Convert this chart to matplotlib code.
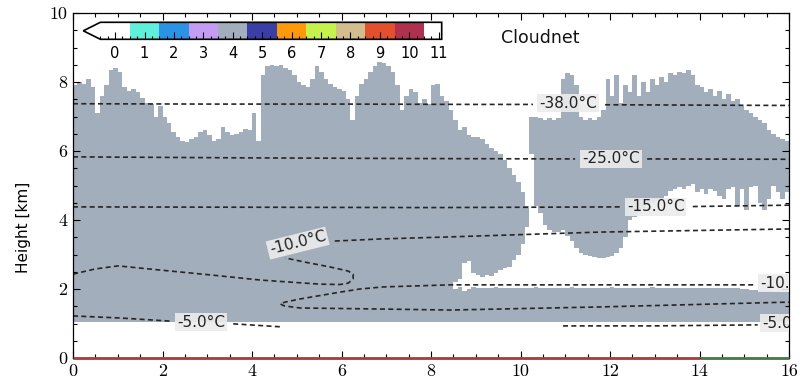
import numpy as np
import matplotlib
matplotlib.use("Agg")
import matplotlib.pyplot as plt
from matplotlib.colors import ListedColormap, BoundaryNorm
from matplotlib.cm import ScalarMappable
from matplotlib.ticker import MultipleLocator

plt.rcParams['font.family'] = ['DejaVu Sans']

# ---- Cloudnet target classification legend (classes 0..11) ----
class_colors = ["#ffffff", "#5ff0dc", "#2b93e6", "#c39cf5", "#a2aebb", "#3a3ea6",
                "#ff990a", "#c5f34b", "#d3bd8f", "#e4502c", "#b0304f", "#ffffff"]
class_bounds = [-0.5, 0.5, 1.5, 2.5, 3.5, 4.5, 5.5, 6.5, 7.5, 8.5, 9.5, 10.5, 11.1]
class_ticks = [0, 1, 2, 3, 4, 5, 6, 7, 8, 9, 10, 11]
ice_class = 4

# ---- cloud mask: profiles every 0.1 h ----
time_edges = np.linspace(0.0, 16.0, 161)
height_edges = np.linspace(0.0, 10.0, 1001)
cloud_base_km = 1.05

# echo top height per 0.1 h column [km]
echo_top_km = [
    7.9, 8.0, 7.95, 8.1, 7.85, 7.1, 7.6, 7.9, 8.35, 8.4,
    8.3, 7.85, 7.75, 7.8, 7.7, 7.55, 7.4, 7.35, 7.0, 7.3,
    7.0, 6.8, 6.55, 6.4, 6.3, 6.25, 6.35, 6.4, 6.55, 6.6,
    6.45, 6.3, 6.35, 6.7, 6.55, 6.45, 6.5, 6.55, 6.65, 6.6,
    7.1, 6.3, 8.2, 8.45, 8.5, 8.45, 8.5, 8.4, 8.35, 8.2,
    8.0, 7.9, 7.85, 8.1, 8.45, 8.3, 8.1, 7.95, 7.85, 7.8,
    7.75, 7.5, 6.9, 7.6, 7.95, 8.1, 8.3, 8.45, 8.58, 8.55,
    8.45, 8.3, 7.9, 7.2, 7.6, 7.8, 7.7, 7.4, 7.5, 7.35,
    7.9, 7.95, 7.6, 7.45, 7.2, 6.9, 6.6, 6.7, 6.45, 6.4,
    6.4, 6.35, 6.2, 6.1, 6.0, 5.9, 5.75, 5.5, 5.3, 5.1,
    4.8, 4.4, 7.0, 7.0, 6.95, 6.9, 6.95, 6.9, 6.95, 8.1,
    8.25, 8.2, 7.9, 7.0, 6.9, 6.95, 6.9, 7.0, 7.2, 8.1,
    7.6, 8.2, 7.4, 7.9, 7.7, 8.2, 7.6, 8.0, 7.7, 8.1,
    7.9, 8.15, 8.0, 8.25, 8.2, 8.3, 8.25, 8.35, 8.2, 7.9,
    7.85, 7.7, 7.8, 7.6, 7.75, 7.5, 7.65, 7.45, 7.5, 7.3,
    7.2, 7.1, 7.0, 6.9, 6.8, 6.6, 6.5, 6.4, 6.35, 6.3,
]

# clear gap between the low layer and the cloud aloft, from column 85 on [km]
gap_first_col = 85
gap_bottom_km = [
    2.0, 2.05, 1.95, 2.0, 2.05, 2.03, 2.02, 2.04, 2.03, 2.05,
    2.03, 2.02, 2.04, 2.03, 2.03, 2.04, 2.02, 2.03, 2.05, 2.03,
    2.04, 2.03, 2.02, 2.03, 2.04, 2.03, 2.05, 2.03, 2.02, 2.04,
    2.03, 2.03, 2.04, 2.02, 2.03, 2.05, 2.03, 2.04, 2.03, 2.02,
    2.03, 2.04, 2.03, 2.03, 2.05, 2.02, 2.03, 2.04, 2.03, 2.03,
    2.02, 2.04, 2.03, 2.03, 2.02, 2.04, 2.03, 2.02, 2.03, 2.04,
    2.03, 2.02, 2.03, 2.02, 2.0, 2.0, 1.98, 1.96, 1.95, 1.94,
    1.95, 1.92, 1.9, 1.9, 1.92,
]
gap_top_km = [
    2.2, 2.3, 2.75, 2.8, 2.45, 2.4, 2.35, 2.4, 2.38, 2.45,
    2.55, 2.6, 2.65, 2.85, 3.0, 3.3, 3.8, 5.9, 4.4, 4.2,
    3.85, 3.7, 3.65, 3.65, 3.7, 3.55, 3.4, 3.2, 3.05, 3.0,
    2.95, 2.92, 2.9, 2.9, 2.92, 2.95, 3.05, 3.2, 3.5, 4.0,
    4.1, 4.2, 4.35, 4.45, 4.5, 4.55, 4.6, 4.7, 4.85, 4.9,
    4.95, 4.9, 5.0, 5.05, 4.8, 4.9, 4.75, 4.9, 4.85, 4.7,
    4.6, 4.9, 4.95, 4.4, 4.9, 4.3, 4.95, 5.0, 4.5, 4.3,
    4.6, 5.0, 4.8, 4.6, 4.8,
]

# ---- model isotherms (time [h], height [km]); NaN breaks leave room for labels ----
iso_m38_t = [0.0, 3.0, 6.0, 9.0, 10.28, np.nan, 11.89, 14.0, 16.0]
iso_m38_h = [7.37, 7.36, 7.36, 7.35, 7.35, np.nan, 7.34, 7.33, 7.32]
iso_m25_t = [0.0, 4.0, 8.0, 11.22, np.nan, 12.83, 16.0]
iso_m25_h = [5.83, 5.80, 5.78, 5.77, np.nan, 5.77, 5.76]
iso_m15_t = [0.0, 4.0, 8.0, 12.22, np.nan, 13.85, 16.0]
iso_m15_h = [4.38, 4.37, 4.36, 4.38, np.nan, 4.39, 4.43]
iso_m10a_t = [0.0, 0.49, 1.01, 1.94, 3.06, 4.18, 5.52, 5.97, 6.15, 6.26, 6.26, 6.15,
              5.74, 5.18, 4.74, np.nan, 5.85, 6.86, 8.42, 11.78, 16.0]
iso_m10a_h = [2.43, 2.58, 2.67, 2.55, 2.41, 2.26, 2.14, 2.13, 2.17, 2.29, 2.43, 2.52,
              2.64, 2.78, 2.90, np.nan, 3.39, 3.45, 3.51, 3.65, 3.74]
iso_m10b_t = [15.20, 11.78, 8.42, 6.93, 6.41, 5.97, 5.07, 4.74, 4.63, 4.72, 5.07,
              6.86, 8.42, 11.78, 16.0]
iso_m10b_h = [2.12, 2.12, 2.12, 2.06, 2.00, 1.91, 1.71, 1.62, 1.57, 1.51, 1.45,
              1.42, 1.39, 1.48, 1.62]
iso_m5_t = [0.0, 1.05, 2.17, np.nan, 3.58, 4.69, np.nan, 10.95, 12.89, 15.30]
iso_m5_h = [1.22, 1.16, 1.07, np.nan, 0.99, 0.90, np.nan, 0.93, 0.93, 0.96]

iso_label_text = ["-38.0°C", "-25.0°C", "-15.0°C", "-10.0°C", "-10.0°C", "-5.0°C", "-5.0°C"]
iso_label_t = [11.06, 12.02, 13.02, 5.02, 15.35, 2.86, 15.40]
iso_label_h = [7.39, 5.77, 4.38, 3.33, 2.17, 1.04, 1.01]
iso_label_rot = [0, 0, 0, 14, 0, 0, 0]
iso_label_ha = ["center", "center", "center", "center", "left", "center", "left"]

# ---- flag strip along the bottom ----
flag_start = [0.0, 14.0]
flag_end = [14.0, 16.0]
flag_color = ["#b23a3a", "#3f7f45"]

# ---------------------------------------------------------------
fig = plt.figure(figsize=(8.02, 3.85), dpi=100)
ax = fig.add_axes([73 / 802, 27 / 385, 716 / 802, 345 / 385])

cmap = ListedColormap(class_colors)
cmap.set_under("white")
norm = BoundaryNorm(class_bounds, cmap.N)

h_mid = 0.5 * (height_edges[:-1] + height_edges[1:])
classes = np.zeros((h_mid.size, time_edges.size - 1))
for j in range(time_edges.size - 1):
    inside = (h_mid >= cloud_base_km) & (h_mid < echo_top_km[j])
    if j >= gap_first_col:
        k = j - gap_first_col
        inside &= ~((h_mid >= gap_bottom_km[k]) & (h_mid < gap_top_km[k]))
    classes[inside, j] = ice_class
classes = np.ma.masked_equal(classes, 0)
ax.pcolormesh(time_edges, height_edges, classes, cmap=cmap, norm=norm,
              shading="flat", edgecolors="none", linewidth=0, zorder=1)

dash_kw = dict(color="#262626", lw=1.2, dashes=(3, 2), zorder=2)
for tt, hh in [(iso_m38_t, iso_m38_h), (iso_m25_t, iso_m25_h), (iso_m15_t, iso_m15_h),
               (iso_m10a_t, iso_m10a_h), (iso_m10b_t, iso_m10b_h), (iso_m5_t, iso_m5_h)]:
    ax.plot(tt, hh, **dash_kw)

for txt, tx, hy, rot, ha in zip(iso_label_text, iso_label_t, iso_label_h,
                                iso_label_rot, iso_label_ha):
    ax.text(tx, hy, txt, fontsize=11, rotation=rot, ha=ha, va="center",
            rotation_mode="anchor", color="#222222", zorder=3, clip_on=True,
            bbox=dict(boxstyle="square,pad=0.12", fc="#ececec", ec="none", alpha=0.9))

for s, e, c in zip(flag_start, flag_end, flag_color):
    ax.plot([s, e], [0, 0], color=c, lw=2.0, solid_capstyle="butt", clip_on=False, zorder=5)

ax.text(10.44, 9.28, "Cloudnet", fontsize=12.5, ha="center", va="center", color="#111111")

ax.set_xlim(0, 16)
ax.set_ylim(0, 10)
ax.xaxis.set_major_locator(MultipleLocator(2))
ax.xaxis.set_minor_locator(MultipleLocator(0.5))
ax.yaxis.set_major_locator(MultipleLocator(2))
ax.yaxis.set_minor_locator(MultipleLocator(0.5))
ax.tick_params(which="both", direction="in", top=True, right=True, width=0.8)
ax.tick_params(which="major", length=5, labelsize=13, labelfontfamily="cmr10", pad=4)
ax.tick_params(which="minor", length=3)
for sp in ax.spines.values():
    sp.set_linewidth(0.9)
ax.set_ylabel("Height [km]", fontsize=11)
ax.yaxis.set_label_coords(-0.058, 0.38)

# classification colour bar
cax = fig.add_axes([83.3 / 802, (385 - 39.3) / 385, 358.4 / 802, 17 / 385])
cb = fig.colorbar(ScalarMappable(norm=norm, cmap=cmap), cax=cax, orientation="horizontal",
                  extend="min", spacing="proportional", ticks=class_ticks)
cb.minorlocator = MultipleLocator(0.25)
cb.outline.set_linewidth(1.2)
cax.tick_params(which="both", direction="in", bottom=True, top=False, width=0.8)
cax.tick_params(which="major", length=5, labelsize=10.5, pad=5)
cax.tick_params(which="minor", length=2.5)

fig.savefig("out.png", dpi=100)
